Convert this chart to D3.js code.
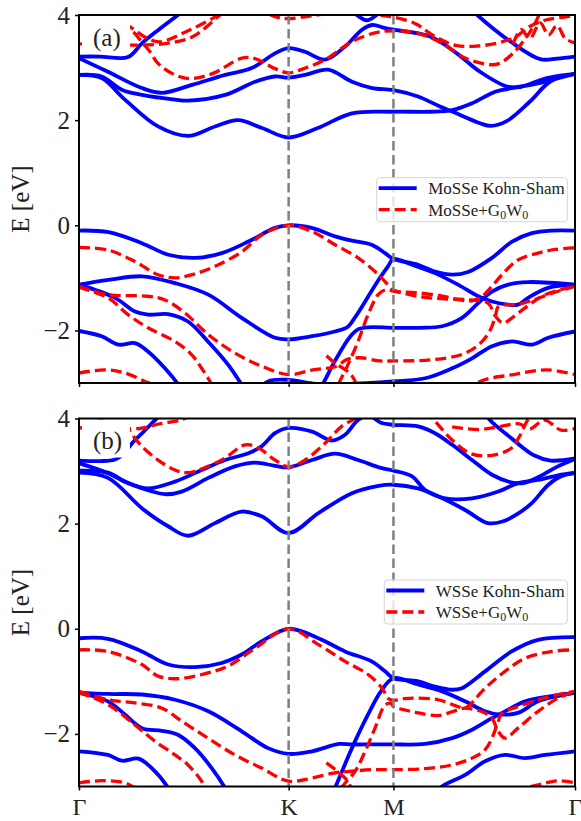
<!DOCTYPE html>
<html>
<head>
<meta charset="utf-8">
<script src="https://cdn.jsdelivr.net/npm/d3@7"></script>
<style>
  body { margin: 0; background: #fff; }
  text { font-family: "Liberation Serif", "Times New Roman", serif; }
</style>
</head>
<body>
<svg id="chart" width="581" height="821"></svg>
<script>
// k-path: Gamma = 0, K = 1 (|GK| units), M = 1.5, Gamma = 2.366
const kTicks = [0, 1, 1.5, 2.366];
const kLabels = ["Γ", "K", "M", "Γ"];
const eTicks = [-2, 0, 2, 4];

// MoSSe, Kohn-Sham bands [k, E(eV)]
const mosseKS = [
  [[0,2.86],[0.108,2.80],[0.219,2.39],[0.377,1.88],[0.520,1.70],[0.649,1.88],[0.759,2.0],[0.873,1.85],[1.0,1.67],[1.140,1.85],[1.302,2.13],[1.5,2.16],[1.675,2.16],[1.780,2.19],[1.875,2.32],[1.985,2.54],[2.066,2.61],[2.190,2.70],[2.285,2.80],[2.366,2.88]],
  [[0,2.86],[0.108,2.83],[0.204,2.58],[0.301,2.48],[0.458,2.39],[0.520,2.37],[0.697,2.48],[0.840,2.73],[0.935,2.83],[1.0,2.81],[1.078,2.86],[1.188,2.96],[1.302,2.73],[1.398,2.61],[1.5,2.57],[1.617,2.45],[1.722,2.26],[1.818,2.10],[1.913,1.94],[1.965,1.89],[2.04,1.98],[2.15,2.35],[2.25,2.74],[2.366,2.88]],
  [[0,3.18],[0.138,2.92],[0.300,2.61],[0.396,2.52],[0.539,2.67],[0.697,2.86],[0.824,2.99],[0.935,3.27],[1.0,3.37],[1.078,3.30],[1.174,3.15],[1.269,3.40],[1.350,3.72],[1.398,3.81],[1.460,3.75],[1.5,3.72],[1.675,3.59],[1.802,3.27],[1.913,2.92],[2.041,2.64],[2.104,2.63],[2.231,2.80],[2.366,2.88]],
  [[0,3.21],[0.10,3.21],[0.234,3.20],[0.300,3.46],[0.380,3.72],[0.472,4.0],[0.55,4.25]],
  [[1.28,4.15],[1.325,4.0],[1.373,3.90],[1.42,4.0],[1.47,4.15]],
  [[1.85,4.2],[1.90,4.0],[2.06,3.49],[2.20,3.16],[2.28,3.17],[2.366,3.21]],
  [[0,-0.10],[0.141,-0.13],[0.300,-0.34],[0.426,-0.56],[0.553,-0.62],[0.681,-0.53],[0.808,-0.31],[0.935,-0.05],[1.0,0],[1.11,-0.05],[1.221,-0.21],[1.30,-0.29],[1.396,-0.37],[1.46,-0.53],[1.5,-0.64],[1.617,-0.75],[1.698,-0.88],[1.78,-0.94],[1.856,-0.89],[1.97,-0.62],[2.066,-0.31],[2.161,-0.15],[2.257,-0.10],[2.366,-0.10]],
  [[0,-1.13],[0.141,-1.04],[0.300,-0.97],[0.458,-1.10],[0.617,-1.32],[0.776,-1.76],[0.935,-2.14],[1.0,-2.17],[1.112,-2.11],[1.221,-2.02],[1.283,-1.93],[1.317,-1.75],[1.365,-1.45],[1.427,-1.05],[1.474,-0.78],[1.5,-0.64],[1.589,-0.75],[1.698,-0.91],[1.808,-1.13],[1.904,-1.35],[1.970,-1.45],[2.047,-1.51],[2.094,-1.51],[2.142,-1.38],[2.238,-1.19],[2.366,-1.13]],
  [[0,-1.13],[0.172,-1.38],[0.267,-1.64],[0.329,-1.70],[0.425,-1.69],[0.520,-1.83],[0.615,-2.21],[0.711,-2.65],[0.776,-3.03],[0.82,-3.3]],
  [[0,-2.01],[0.108,-2.11],[0.188,-2.27],[0.267,-2.24],[0.329,-2.40],[0.410,-2.72],[0.474,-3.03],[0.52,-3.3]],
  [[1.12,-3.3],[1.159,-3.05],[1.221,-2.58],[1.293,-2.12],[1.331,-1.98],[1.379,-1.94],[1.5,-1.95],[1.627,-1.95],[1.732,-1.92],[1.827,-1.76],[1.904,-1.48],[1.970,-1.26],[2.047,-1.13],[2.142,-1.08],[2.366,-1.13]],
  [[0.84,-3.2],[0.902,-2.97],[1.0,-2.94],[1.116,-3.01],[1.26,-3.02],[1.5,-2.97],[1.651,-2.91],[1.78,-2.72],[1.875,-2.53],[1.970,-2.30],[2.066,-2.21],[2.161,-2.27],[2.238,-2.14],[2.366,-2.02]]
];

// MoSSe, G0W0 bands
const mosseGW = [
  [[0,4.3],[0.10,4.0],[0.186,3.85],[0.253,3.70],[0.301,3.48],[0.339,3.30],[0.377,3.08],[0.458,2.86],[0.530,2.79],[0.639,2.89],[0.778,3.18],[0.840,3.17],[0.935,2.98],[1.0,2.90],[1.078,2.99],[1.174,3.15],[1.30,3.49],[1.412,3.66],[1.5,3.70],[1.62,3.65],[1.732,3.46],[1.842,3.18],[1.95,3.06],[2.0,3.07],[2.07,3.27],[2.136,3.59],[2.17,3.80],[2.20,4.05]],
  [[0,3.45],[0.10,3.44],[0.20,3.43],[0.305,3.43],[0.420,3.46],[0.544,3.59],[0.673,4.0],[0.72,4.15]],
  [[0.15,4.0],[0.253,3.75],[0.324,3.56],[0.386,3.49],[0.51,3.68],[0.639,3.94],[0.68,4.05]],
  [[0.84,4.15],[0.935,3.97],[1.0,3.93],[1.10,3.98],[1.20,4.03],[1.35,4.03],[1.45,3.99],[1.5,3.96],[1.603,3.84],[1.698,3.59],[1.80,3.42],[1.90,3.41],[2.0,3.47],[2.08,3.58],[2.15,3.78],[2.23,3.91],[2.33,3.97],[2.366,4.0]],
  [[2.07,3.45],[2.11,3.72],[2.15,3.55],[2.20,3.85],[2.24,3.62],[2.28,3.80],[2.32,3.55],[2.366,3.47]],
  [[0,-0.42],[0.138,-0.47],[0.267,-0.69],[0.377,-0.94],[0.458,-1.00],[0.539,-0.94],[0.649,-0.78],[0.778,-0.50],[0.873,-0.18],[1.0,0],[1.112,-0.12],[1.221,-0.37],[1.331,-0.62],[1.412,-0.88],[1.46,-1.07],[1.493,-1.22],[1.52,-1.26],[1.603,-1.28],[1.722,-1.34],[1.818,-1.42],[1.865,-1.44],[1.913,-1.38],[1.961,-1.20],[2.018,-0.94],[2.094,-0.66],[2.190,-0.53],[2.271,-0.46],[2.366,-0.43]],
  [[0,-1.16],[0.138,-1.32],[0.329,-1.35],[0.410,-1.42],[0.506,-1.67],[0.617,-2.08],[0.744,-2.43],[0.871,-2.68],[1.0,-2.84],[1.116,-2.75],[1.228,-2.68],[1.279,-2.55],[1.341,-2.52],[1.436,-2.58],[1.5,-2.58],[1.675,-2.56],[1.832,-2.45],[1.913,-2.25],[1.961,-2.0],[1.985,-1.75],[2.0,-1.55],[2.04,-1.51],[2.085,-1.51],[2.161,-1.43],[2.257,-1.29],[2.366,-1.16]],
  [[0,-1.18],[0.138,-1.38],[0.234,-1.70],[0.329,-1.95],[0.458,-2.21],[0.537,-2.46],[0.585,-2.72],[0.633,-3.03],[0.66,-3.3]],
  [[0,-2.81],[0.124,-2.75],[0.219,-2.81],[0.315,-2.97],[0.347,-3.03],[0.40,-3.3]],
  [[1.20,-3.3],[1.236,-3.03],[1.283,-2.65],[1.331,-2.21],[1.379,-1.70],[1.427,-1.32],[1.46,-1.23],[1.5,-1.25],[1.627,-1.36],[1.746,-1.40],[1.865,-1.42],[1.951,-1.48],[1.985,-1.72],[2.023,-1.86],[2.066,-1.76],[2.128,-1.57],[2.223,-1.32],[2.366,-1.16]],
  [[1.85,-3.2],[1.913,-2.97],[2.072,-2.84],[2.231,-2.75],[2.366,-2.84]],
  [[1.18,-2.48],[1.221,-2.62],[1.30,-2.85],[1.34,-3.2]]
];

// WSSe, Kohn-Sham bands
const wsseKS = [
  [[0,2.97],[0.138,2.87],[0.301,2.29],[0.425,1.95],[0.520,1.77],[0.649,2.01],[0.776,2.23],[0.871,2.14],[1.0,1.82],[1.142,2.20],[1.302,2.58],[1.429,2.72],[1.5,2.74],[1.617,2.67],[1.713,2.52],[1.842,2.26],[1.95,2.01],[2.02,2.04],[2.09,2.18],[2.16,2.39],[2.239,2.74],[2.30,2.90],[2.366,2.96]],
  [[0,3.01],[0.138,2.97],[0.219,2.80],[0.301,2.67],[0.410,2.56],[0.490,2.61],[0.617,2.87],[0.744,3.09],[0.840,3.16],[0.935,3.10],[1.0,3.07],[1.112,3.21],[1.221,3.33],[1.331,3.21],[1.44,3.06],[1.5,3.01],[1.589,2.90],[1.651,2.64],[1.746,2.48],[1.875,2.48],[2.0,2.61],[2.094,2.77],[2.190,2.83],[2.285,2.92],[2.366,2.97]],
  [[0,3.15],[0.138,2.96],[0.234,2.77],[0.329,2.67],[0.458,2.80],[0.585,3.02],[0.697,3.21],[0.808,3.34],[0.871,3.47],[0.935,3.72],[1.0,3.82],[1.112,3.75],[1.207,3.58],[1.269,3.69],[1.331,3.97],[1.38,4.06],[1.44,3.92],[1.5,3.88],[1.617,3.85],[1.698,3.72],[1.780,3.50],[1.875,3.21],[1.970,2.93],[2.066,2.78],[2.118,2.77],[2.199,2.90],[2.28,3.08],[2.366,3.23]],
  [[0,3.20],[0.10,3.19],[0.172,3.22],[0.219,3.35],[0.253,3.53],[0.301,3.72],[0.363,3.97],[0.41,4.15]],
  [[1.93,4.15],[1.96,3.97],[2.064,3.62],[2.17,3.30],[2.25,3.20],[2.366,3.24]],
  [[0,-0.18],[0.138,-0.19],[0.300,-0.43],[0.426,-0.68],[0.553,-0.73],[0.681,-0.65],[0.776,-0.49],[0.871,-0.24],[1.0,0],[1.142,-0.18],[1.269,-0.43],[1.396,-0.62],[1.46,-0.81],[1.5,-0.94],[1.617,-1.0],[1.698,-1.10],[1.78,-1.16],[1.827,-1.13],[1.937,-0.81],[2.064,-0.43],[2.19,-0.21],[2.366,-0.16]],
  [[0,-1.22],[0.138,-1.24],[0.300,-1.25],[0.458,-1.35],[0.617,-1.57],[0.776,-1.95],[0.902,-2.27],[1.0,-2.38],[1.112,-2.33],[1.24,-2.19],[1.30,-2.20],[1.398,-2.20],[1.5,-2.20],[1.651,-2.19],[1.780,-2.08],[1.875,-1.92],[1.970,-1.70],[2.032,-1.57],[2.128,-1.38],[2.238,-1.29],[2.366,-1.22]],
  [[0,-1.22],[0.138,-1.38],[0.219,-1.63],[0.300,-1.89],[0.396,-1.94],[0.474,-2.02],[0.553,-2.27],[0.633,-2.65],[0.697,-3.03],[0.73,-3.3]],
  [[0,-2.33],[0.138,-2.40],[0.204,-2.51],[0.283,-2.47],[0.347,-2.65],[0.426,-3.03],[0.46,-3.3]],
  [[1.19,-3.3],[1.221,-3.03],[1.302,-2.27],[1.379,-1.63],[1.44,-1.19],[1.5,-0.94],[1.617,-1.06],[1.732,-1.19],[1.842,-1.38],[1.937,-1.57],[2.0,-1.63],[2.094,-1.60],[2.190,-1.38],[2.366,-1.22]],
  [[1.68,-3.3],[1.722,-3.03],[1.842,-2.78],[1.937,-2.52],[2.032,-2.40],[2.128,-2.46],[2.223,-2.40],[2.366,-2.33]]
];

// WSSe, G0W0 bands
const wsseGW = [
  [[0.19,4.2],[0.204,4.0],[0.243,3.75],[0.300,3.47],[0.377,3.21],[0.458,3.02],[0.520,2.97],[0.615,3.09],[0.697,3.25],[0.792,3.50],[0.856,3.44],[0.935,3.21],[1.0,3.08],[1.078,3.21],[1.174,3.53],[1.253,3.85],[1.317,4.0],[1.36,4.15]],
  [[0,3.81],[0.05,3.88],[0.10,3.97],[0.14,4.1]],
  [[0.196,3.82],[0.291,3.81],[0.386,3.90],[0.482,3.97],[0.55,4.08]],
  [[1.65,4.15],[1.70,3.94],[1.78,3.59],[1.87,3.33],[1.97,3.30],[2.06,3.43],[2.10,3.65],[2.13,3.90],[2.16,4.1]],
  [[1.78,3.84],[1.91,3.79],[2.0,3.84],[2.10,3.90],[2.15,3.80],[2.22,3.97],[2.30,3.78],[2.366,3.81]],
  [[0,-0.40],[0.138,-0.43],[0.300,-0.68],[0.377,-0.90],[0.472,-0.95],[0.615,-0.84],[0.711,-0.71],[0.840,-0.37],[1.0,0],[1.142,-0.30],[1.269,-0.62],[1.379,-0.87],[1.446,-1.13],[1.474,-1.32],[1.5,-1.36],[1.55,-1.33],[1.60,-1.32],[1.713,-1.35],[1.808,-1.48],[1.842,-1.51],[1.937,-1.13],[2.032,-0.81],[2.128,-0.56],[2.257,-0.43],[2.366,-0.40]],
  [[0,-1.19],[0.138,-1.35],[0.267,-1.41],[0.396,-1.51],[0.491,-1.76],[0.615,-2.08],[0.744,-2.40],[0.871,-2.65],[1.0,-2.90],[1.112,-2.84],[1.221,-2.74],[1.30,-2.71],[1.398,-2.68],[1.5,-2.68],[1.651,-2.66],[1.780,-2.59],[1.875,-2.46],[1.937,-2.30],[1.970,-2.08],[2.0,-1.76],[2.018,-1.60],[2.094,-1.48],[2.190,-1.35],[2.285,-1.25],[2.366,-1.19]],
  [[0,-1.21],[0.138,-1.44],[0.267,-1.83],[0.363,-2.14],[0.458,-2.40],[0.520,-2.59],[0.585,-2.90],[0.62,-3.2]],
  [[0,-2.93],[0.108,-2.89],[0.219,-2.93],[0.267,-3.03],[0.31,-3.2]],
  [[1.21,-3.3],[1.25,-3.03],[1.317,-2.71],[1.365,-2.33],[1.412,-1.89],[1.46,-1.45],[1.49,-1.42],[1.5,-1.48],[1.56,-1.55],[1.617,-1.60],[1.713,-1.65],[1.808,-1.54],[1.842,-1.51],[1.937,-1.60],[1.97,-1.70],[2.0,-1.95],[2.032,-2.08],[2.094,-1.89],[2.19,-1.57],[2.285,-1.32],[2.366,-1.19]],
  [[1.93,-3.2],[2.19,-2.97],[2.285,-2.89],[2.366,-2.93]],
  [[1.18,-2.55],[1.245,-2.75],[1.285,-2.92],[1.31,-3.2]]
];

const panels = [
  { top: 15, ks: mosseKS, gw: mosseGW, tag: "(a)", name: "MoSSe", legendX: 376.7, legendW: 190.6, labels: false },
  { top: 418.5, ks: wsseKS, gw: wsseGW, tag: "(b)", name: "WSSe", legendX: 384.3, legendW: 183, labels: true }
];

const left = 79, right = 575, ph = 368;
const svg = d3.select("#chart");

const x = d3.scaleLinear().domain([0, 2.366]).range([left, right]);

panels.forEach((p, i) => {
  const y = d3.scaleLinear().domain([-3, 4]).range([p.top + ph, p.top]);
  const line = d3.line()
    .x(d => x(d[0]))
    .y(d => y(d[1]))
    .curve(d3.curveCatmullRom.alpha(0.5));

  svg.append("clipPath").attr("id", "clip" + i)
    .append("rect")
    .attr("x", left).attr("y", p.top)
    .attr("width", right - left).attr("height", ph);

  const g = svg.append("g").attr("clip-path", `url(#clip${i})`);

  g.selectAll("path.ks")
    .data(p.ks)
    .join("path")
    .attr("class", "ks")
    .attr("d", line)
    .attr("fill", "none")
    .attr("stroke", "#0000ff")
    .attr("stroke-width", 3.8);

  g.selectAll("path.gw")
    .data(p.gw)
    .join("path")
    .attr("class", "gw")
    .attr("d", line)
    .attr("fill", "none")
    .attr("stroke", "#ff0000")
    .attr("stroke-width", 3.3)
    .attr("stroke-dasharray", "11,5");

  // high-symmetry lines
  g.selectAll("line.hs")
    .data([1, 1.5])
    .join("line")
    .attr("class", "hs")
    .attr("x1", d => x(d)).attr("x2", d => x(d))
    .attr("y1", p.top).attr("y2", p.top + ph)
    .attr("stroke", "#808080")
    .attr("stroke-width", 2.5)
    .attr("stroke-dasharray", "9.5,4.5");

  // panel tag with white box
  g.append("rect")
    .attr("x", left + 3).attr("y", p.top + 1)
    .attr("width", 48).attr("height", 38)
    .attr("fill", "#fff");
  svg.append("text")
    .attr("x", left + 14).attr("y", p.top + 30.5)
    .attr("font-size", 25)
    .attr("fill", "#222")
    .text(p.tag);

  // legend
  const ly = p.top + (i === 0 ? 162.7 : 161.5);
  const lg = svg.append("g").attr("transform", `translate(${p.legendX},${ly})`);
  lg.append("rect")
    .attr("width", p.legendW).attr("height", 44)
    .attr("rx", 3)
    .attr("fill", "#fff").attr("fill-opacity", 0.8)
    .attr("stroke", "#d5d5d5").attr("stroke-width", 1);
  lg.append("line")
    .attr("x1", 2).attr("x2", 40).attr("y1", 10.5).attr("y2", 10.5)
    .attr("stroke", "#0000ff").attr("stroke-width", 3.8);
  lg.append("line")
    .attr("x1", 2).attr("x2", 40).attr("y1", 32).attr("y2", 32)
    .attr("stroke", "#ff0000").attr("stroke-width", 3.3)
    .attr("stroke-dasharray", "11,5");
  lg.append("text")
    .attr("x", 51.5).attr("y", 16.5)
    .attr("font-size", 17).attr("fill", "#222")
    .text(p.name + " Kohn-Sham");
  const t2 = lg.append("text")
    .attr("x", 51.5).attr("y", 38)
    .attr("font-size", 17).attr("fill", "#222");
  t2.append("tspan").text(p.name + "+G");
  t2.append("tspan").attr("font-size", 12).attr("dy", 3).text("0");
  t2.append("tspan").attr("dy", -3).text("W");
  t2.append("tspan").attr("font-size", 12).attr("dy", 3).text("0");

  // axes
  const ya = svg.append("g")
    .attr("transform", `translate(${left},0)`)
    .call(d3.axisLeft(y).tickValues(eTicks).tickSize(4).tickPadding(5)
      .tickFormat(d3.format("d")));
  ya.select(".domain").remove();
  ya.selectAll("text").attr("font-size", 25).attr("fill", "#222")
    .attr("font-family", '"Liberation Serif", serif');
  ya.selectAll("line").attr("stroke-width", 1.5);

  const xa = svg.append("g")
    .attr("transform", `translate(0,${p.top + ph})`)
    .call(d3.axisBottom(x).tickValues(kTicks).tickSize(4).tickPadding(7)
      .tickFormat((d, j) => p.labels ? kLabels[j] : ""));
  xa.select(".domain").remove();
  xa.selectAll("text").attr("font-size", 24).attr("fill", "#222")
    .attr("font-family", '"Liberation Serif", serif');
  xa.selectAll("line").attr("stroke-width", 1.5);

  svg.append("rect")
    .attr("x", left).attr("y", p.top)
    .attr("width", right - left).attr("height", ph)
    .attr("fill", "none")
    .attr("stroke", "#000").attr("stroke-width", 2);

  svg.append("text")
    .attr("transform", `translate(29,${p.top + ph / 2}) rotate(-90)`)
    .attr("text-anchor", "middle")
    .attr("font-size", 25).attr("fill", "#222")
    .text("E [eV]");
});
</script>
</body>
</html>
